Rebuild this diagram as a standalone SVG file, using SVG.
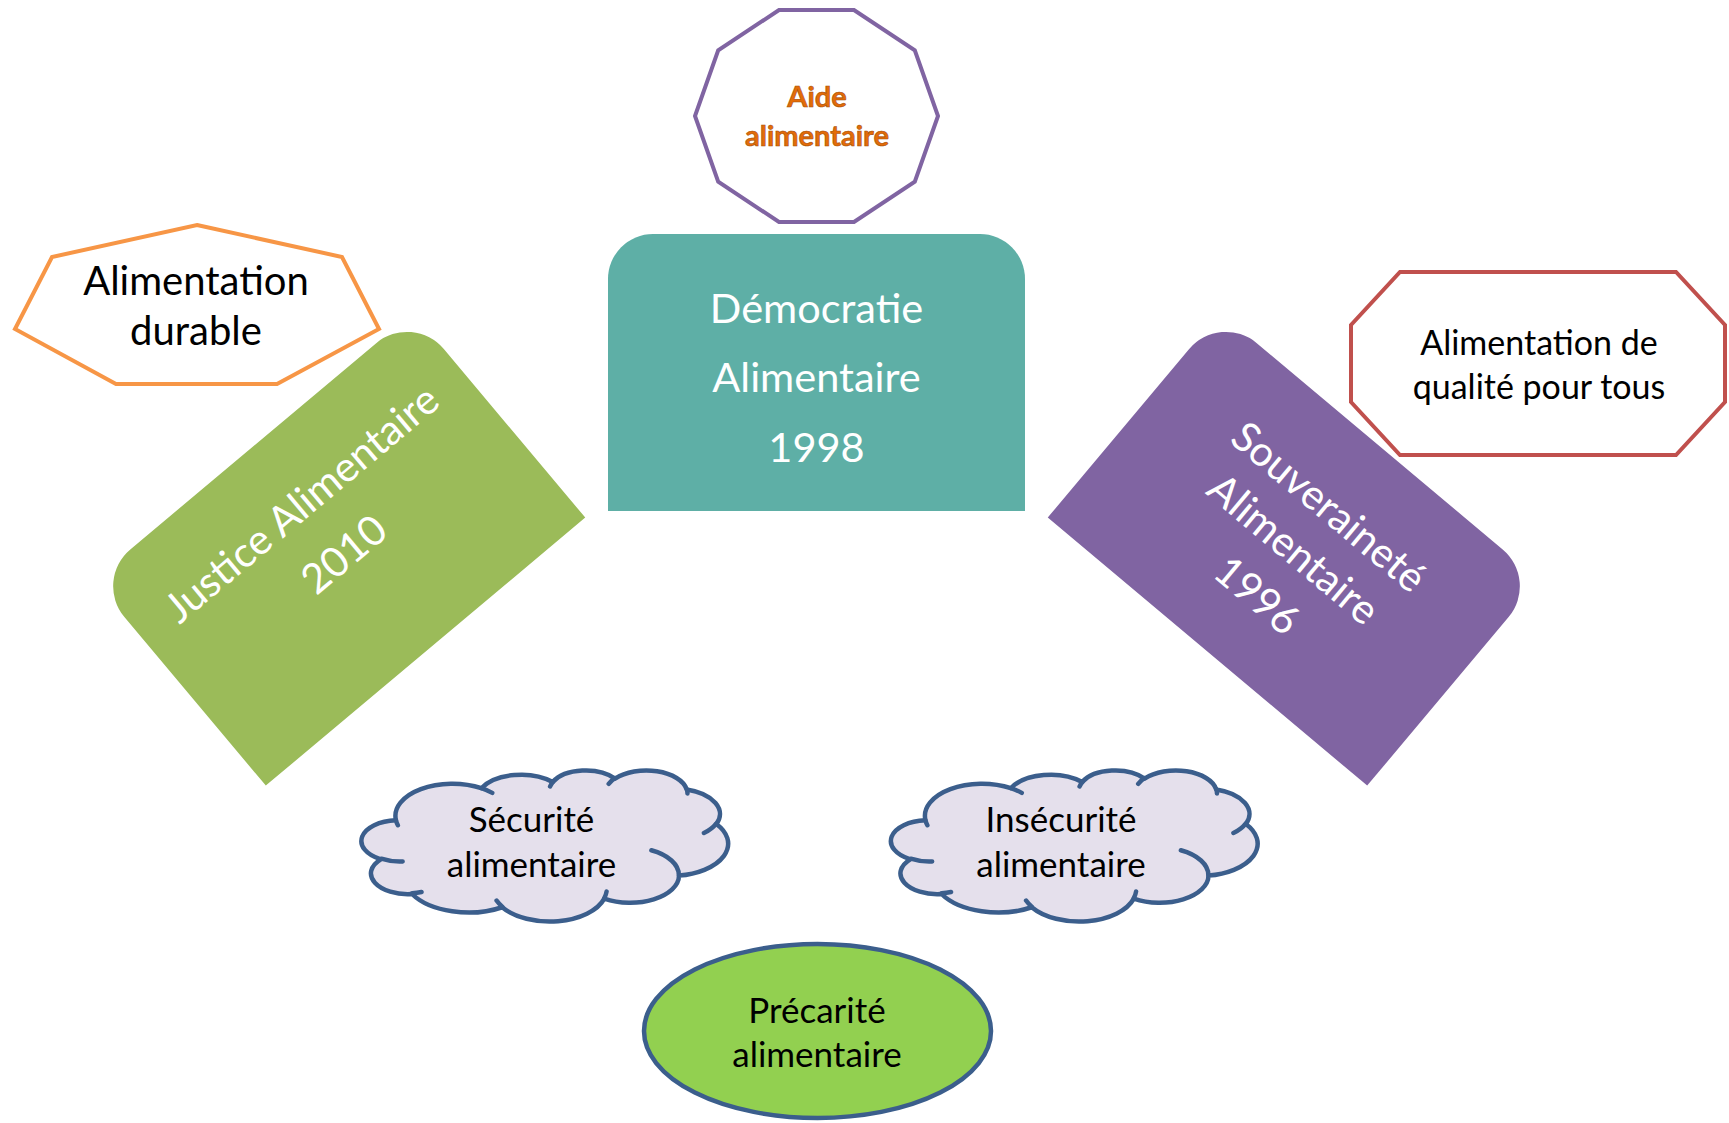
<svg xmlns="http://www.w3.org/2000/svg" width="1729" height="1123" viewBox="0 0 1729 1123">
<style>
text{font-family:Lato,"Liberation Sans",sans-serif;text-anchor:middle}
.w{fill:#fff;font-size:41.5px}
.k{fill:#000}
.b{font-size:35px}
.cloud{fill:#E5E0EC;stroke:#3B5E8C;stroke-width:4.5;stroke-linejoin:round}
.crease{fill:none;stroke:#3B5E8C;stroke-width:4.5;stroke-linecap:round}
.aide{fill:#E36C09;font-size:29px;font-weight:bold;stroke:#A34C06;stroke-width:0.6}
</style>
<defs>
<path id="cloudShape" d="M32.95,50.23 A57.06,32.12 0 0 1 118.33,18.18 A45.06,25.40 0 0 1 189.73,12.00 A36.88,20.78 0 0 1 252.07,8.67 A41.04,23.05 0 0 1 323.76,19.49 A45.06,25.42 0 0 1 353.33,54.04 A57.24,32.23 0 0 1 316.03,105.57 A48.88,27.50 0 0 1 241.27,128.68 A57.05,32.21 0 0 1 139.25,137.25 A65.23,36.85 0 0 1 49.05,123.99 A36.84,20.69 0 0 1 17.84,89.32 A36.71,20.78 0 0 1 32.95,50.23 Z"/>
<path id="cloudCreases" d="M39.65,91.50 A36.71,20.78 0 0 1 18.25,88.71 M58.54,121.99 A36.84,20.69 0 0 1 49.17,123.32 M139.23,136.64 A57.05,32.21 0 0 1 133.58,130.55 M243.57,121.47 A57.05,32.21 0 0 1 241.31,128.14 M288.36,80.23 A48.88,27.50 0 0 1 315.84,105.18 M353.16,53.67 A45.06,25.42 0 0 1 340.92,63.03 M323.80,18.97 A41.04,23.05 0 0 1 324.45,23.38 M245.69,13.81 A41.04,23.05 0 0 1 251.95,8.18 M187.07,16.50 A36.88,20.78 0 0 1 190.10,11.64 M118.29,18.15 A57.06,32.12 0 0 1 129.26,22.86 M34.87,55.19 A57.06,32.12 0 0 1 32.95,50.23"/>
<path id="tab" d="M-208.5,138.5 L-208.5,-81.5 A48,48 0 0 1 -160.5,-129.5 L160.5,-129.5 A48,48 0 0 1 208.5,-81.5 L208.5,138.5 Z"/>
</defs>

<g id="aide-alimentaire">
<polygon points="938,116 914.8,181.6 854,222 779,222 718.2,181.6 695,116 718.2,50.4 779,10 854,10 914.8,50.4" fill="#fff" stroke="#8064A2" stroke-width="4"/>
<text class="aide" x="817" y="107">Aide</text>
<text class="aide" x="817" y="146">alimentaire</text>
</g>

<g id="alimentation-durable">
<polygon points="197,225 342,257 379,329 277,384 116,384 15,329 52,257" fill="#fff" stroke="#F79646" stroke-width="4"/>
<text class="k" x="196" y="295" font-size="40">Alimentation</text>
<text class="k" x="196" y="345" font-size="40">durable</text>
</g>

<g id="democratie-alimentaire">
<path d="M608,511 L608,279 A45,45 0 0 1 653,234 L980,234 A45,45 0 0 1 1025,279 L1025,511 Z" fill="#5EAFA6"/>
<text class="w" x="816.5" y="323">Démocratie</text>
<text class="w" x="816.5" y="392">Alimentaire</text>
<text class="w" x="816.5" y="462">1998</text>
</g>

<g id="justice-alimentaire" transform="translate(336.5,545.5) rotate(-40)">
<use href="#tab" fill="#9BBB59"/>
<text class="w" x="0" y="-40">Justice Alimentaire</text>
<text class="w" x="0" y="26">2010</text>
</g>

<g id="souverainete-alimentaire" transform="translate(1296.5,545.5) rotate(40)">
<use href="#tab" fill="#8064A2"/>
<text class="w" x="0" y="-36">Souveraineté</text>
<text class="w" x="0" y="19">Alimentaire</text>
<text class="w" x="2" y="78">1996</text>
</g>

<g id="alimentation-qualite">
<polygon points="1400,272 1676,272 1725,325 1725,402 1676,455 1400,455 1351,402 1351,325" fill="#fff" stroke="#C0504D" stroke-width="4"/>
<text class="k" x="1539" y="355" font-size="34">Alimentation de</text>
<text class="k" x="1539" y="399" font-size="34">qualité pour tous</text>
</g>

<g id="securite-alimentaire">
<g transform="translate(363,770)">
<use href="#cloudShape" class="cloud"/>
<use href="#cloudCreases" class="crease"/>
</g>
<text class="k b" x="531.5" y="832">Sécurité</text>
<text class="k b" x="531.5" y="877">alimentaire</text>
</g>

<g id="insecurite-alimentaire">
<g transform="translate(892.5,770)">
<use href="#cloudShape" class="cloud"/>
<use href="#cloudCreases" class="crease"/>
</g>
<text class="k b" x="1061" y="832">Insécurité</text>
<text class="k b" x="1061" y="877">alimentaire</text>
</g>

<g id="precarite-alimentaire">
<ellipse cx="817.5" cy="1031" rx="173.5" ry="87" fill="#92D050" stroke="#3B5E8C" stroke-width="4.5"/>
<text class="k b" x="817" y="1023">Précarité</text>
<text class="k b" x="817" y="1067">alimentaire</text>
</g>

<g id="connectors"></g>
</svg>
